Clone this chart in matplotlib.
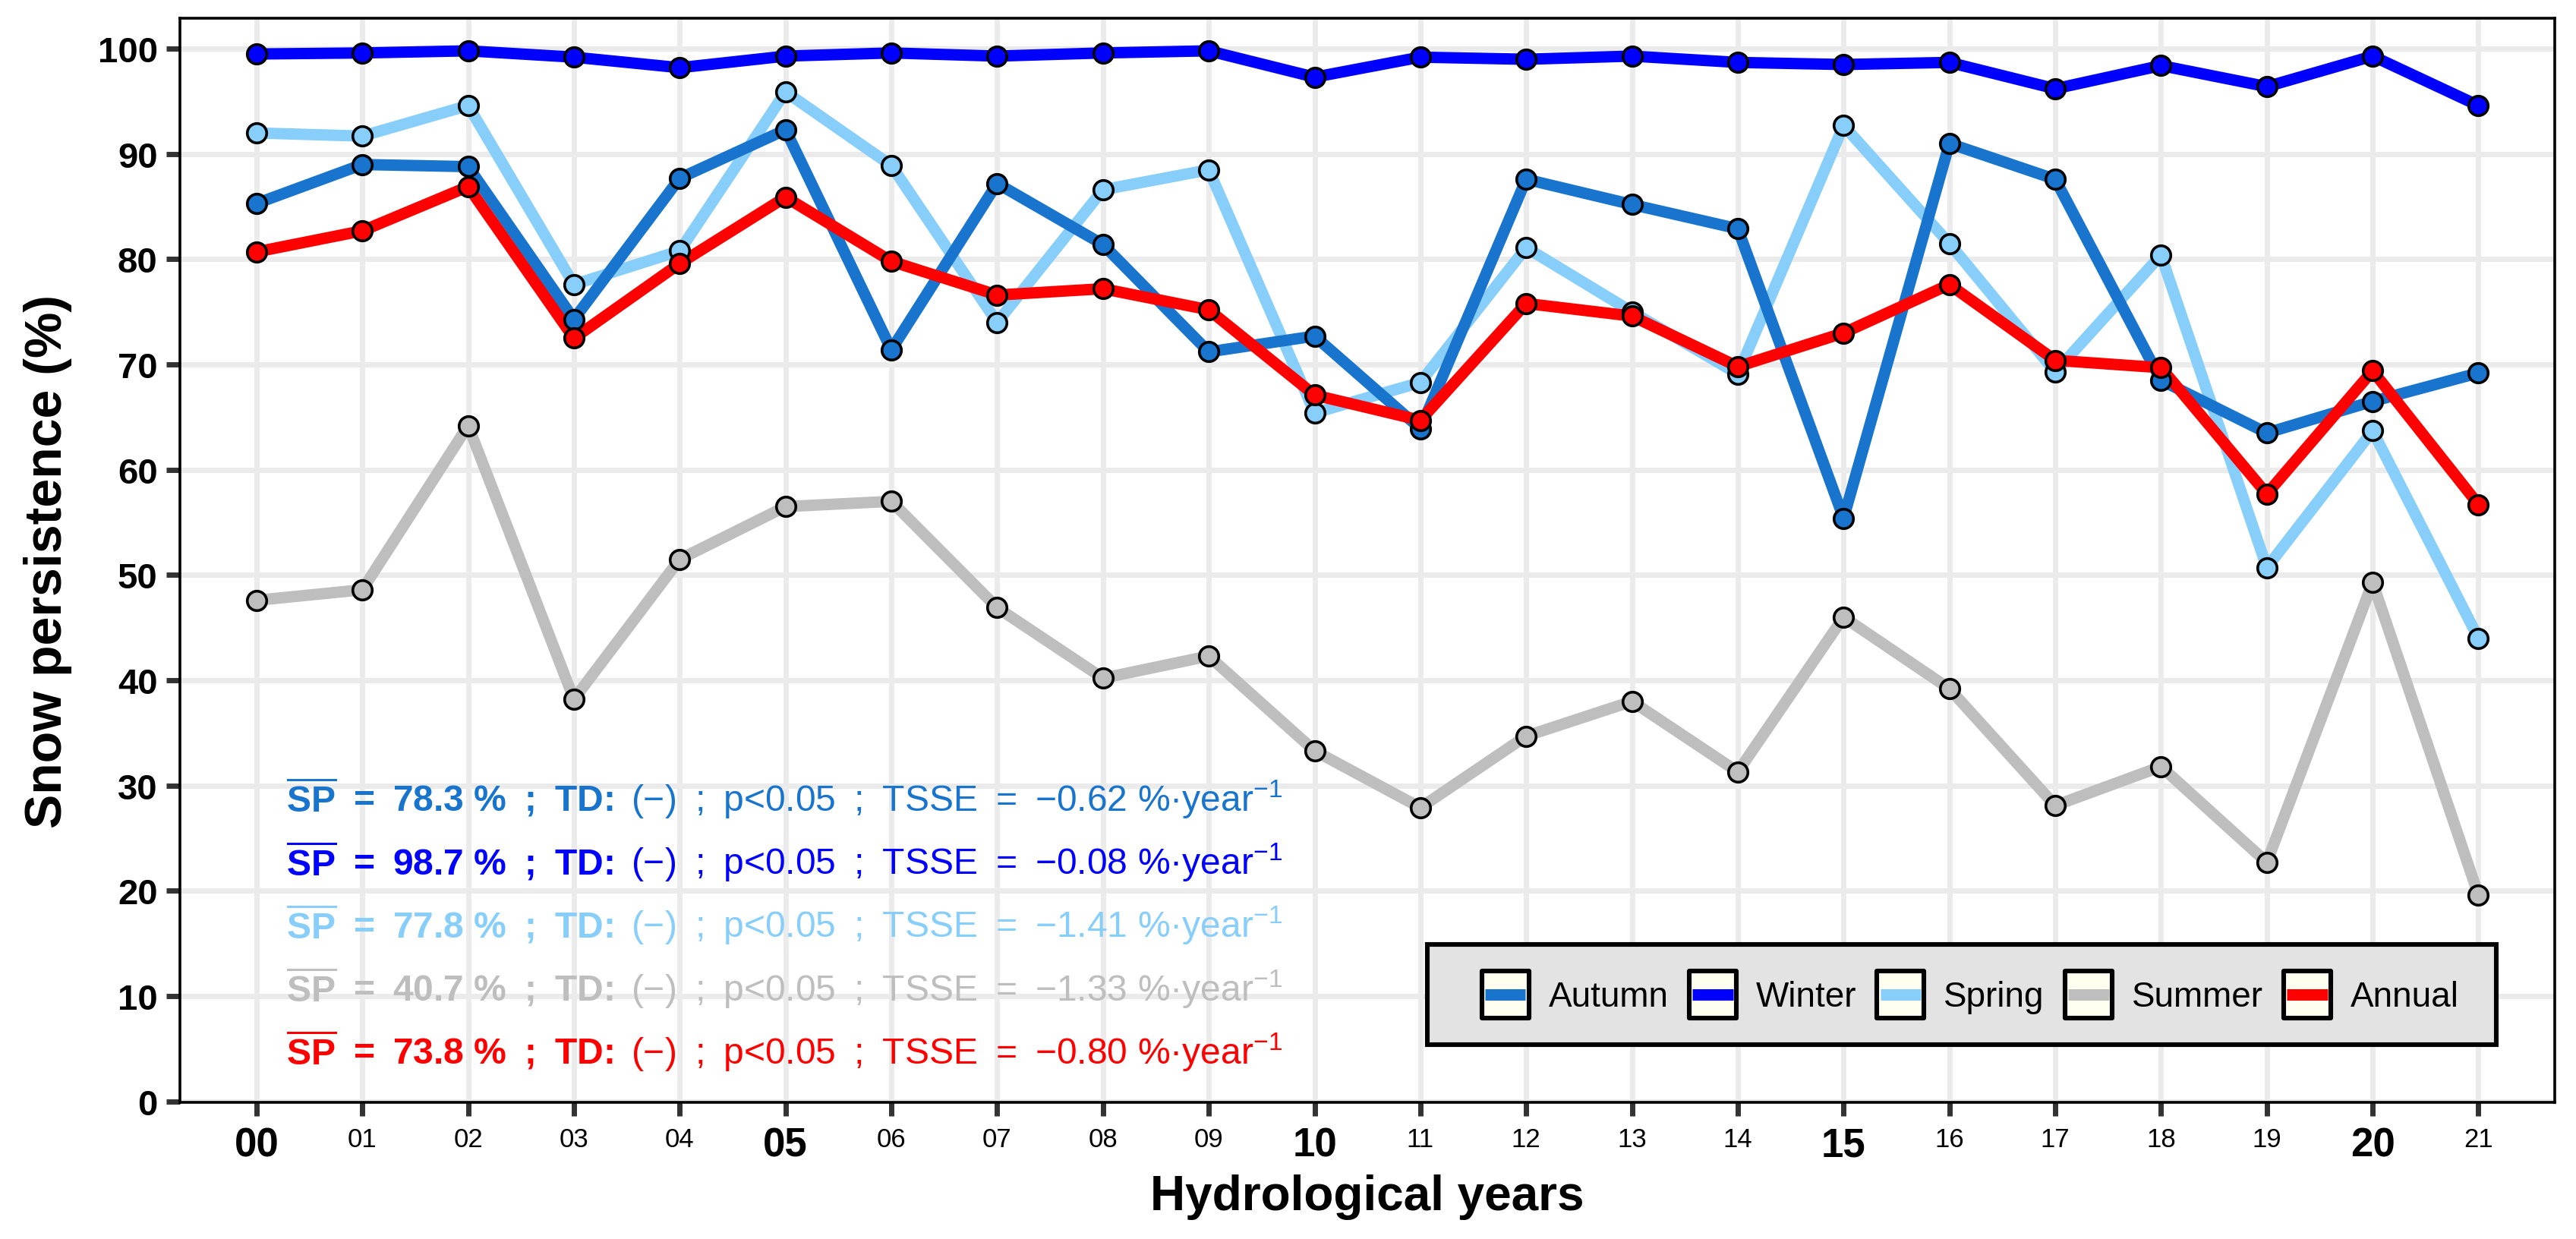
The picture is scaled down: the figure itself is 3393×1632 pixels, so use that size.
import matplotlib
matplotlib.use('Agg')
import matplotlib.pyplot as plt
from matplotlib.patches import Rectangle
from matplotlib.lines import Line2D
from matplotlib.legend_handler import HandlerBase

plt.rcParams['font.family'] = ['Liberation Sans', 'DejaVu Sans']
plt.rcParams['mathtext.fontset'] = 'custom'
plt.rcParams['mathtext.rm'] = 'Liberation Sans'
plt.rcParams['mathtext.bf'] = 'Liberation Sans:bold'
plt.rcParams['mathtext.default'] = 'regular'

# hydrological years (20xx)
years = ['00', '01', '02', '03', '04', '05', '06', '07', '08', '09', '10',
         '11', '12', '13', '14', '15', '16', '17', '18', '19', '20', '21']

autumn = [85.3, 89.0, 88.8, 74.3, 87.7, 92.3, 71.4, 87.2, 81.4, 71.2, 72.7,
          63.9, 87.6, 85.2, 82.9, 55.4, 91.0, 87.6, 68.5, 63.5, 66.5, 69.2]
winter = [99.5, 99.6, 99.8, 99.2, 98.2, 99.3, 99.6, 99.3, 99.6, 99.8, 97.3,
          99.2, 99.0, 99.3, 98.7, 98.5, 98.7, 96.2, 98.4, 96.4, 99.3, 94.6]
spring = [92.0, 91.7, 94.6, 77.6, 80.8, 95.9, 88.9, 74.0, 86.6, 88.5, 65.4,
          68.3, 81.1, 75.0, 69.1, 92.7, 81.5, 69.3, 80.4, 50.7, 63.7, 44.0]
summer = [47.6, 48.6, 64.2, 38.2, 51.5, 56.5, 57.0, 46.9, 40.2, 42.3, 33.3,
          27.9, 34.7, 38.0, 31.3, 46.0, 39.2, 28.1, 31.8, 22.7, 49.3, 19.6]
annual = [80.7, 82.7, 86.9, 72.5, 79.6, 85.9, 79.8, 76.6, 77.2, 75.2, 67.1,
          64.7, 75.8, 74.6, 69.8, 73.0, 77.6, 70.4, 69.7, 57.7, 69.4, 56.7]

names = ['Autumn', 'Winter', 'Spring', 'Summer', 'Annual']
values = [autumn, winter, spring, summer, annual]
colors = ['#1874CD', '#0000FF', '#87CEFA', '#BEBEBE', '#FF0000']
line_z = [4, 5, 3, 2, 6]

# stats printed in the panel
sp_mean = ['78.3', '98.7', '77.8', '40.7', '73.8']
tsse = ['0.62', '0.08', '1.41', '1.33', '0.80']

SP = '\u2002'  # wide gap like the plotmath spacing


class KeyHandler(HandlerBase):
    # square key with ivory background and a coloured bar through it
    def create_artists(self, legend, orig_handle, xdescent, ydescent,
                       width, height, fontsize, trans):
        box = Rectangle((-xdescent, -ydescent), width, height,
                        facecolor='#FFFFF0', edgecolor='black', linewidth=2.2,
                        joinstyle='round', transform=trans)
        yc = -ydescent + height / 2
        bar = Line2D([-xdescent + 1.5, -xdescent + width - 1.5], [yc, yc],
                     color=orig_handle.get_color(), linewidth=5.4,
                     solid_capstyle='butt', transform=trans)
        return [box, bar]


fig = plt.figure(figsize=(3393 / 200, 1633 / 200), dpi=200)
ax = fig.add_axes([0.0698, 0.1102, 0.9219, 0.8745])

x = list(range(len(years)))
handles = []
for name, vals, col, z in zip(names, values, colors, line_z):
    ln, = ax.plot(x, vals, color=col, lw=5.4, zorder=z, solid_capstyle='butt')
    handles.append(ln)
for vals, col, z in zip(values, colors, line_z):
    ax.plot(x, vals, ls='none', marker='o', ms=9.2, mfc=col, mec='black',
            mew=1.3, zorder=10 + z)

ax.set_xlim(-0.725, 21.72)
ax.set_ylim(-0.1, 102.9)
ax.set_xticks(x)
ax.set_xticklabels(years)
ax.set_yticks(range(0, 101, 10))
for lab in ax.get_yticklabels():
    lab.set_fontweight('bold')
for i, lab in enumerate(ax.get_xticklabels()):
    if i % 5 == 0:
        lab.set_fontsize(19)
        lab.set_fontweight('bold')
    else:
        lab.set_fontsize(12.5)

ax.tick_params(axis='both', length=6.5, width=2.5, color='#333333')
ax.tick_params(axis='y', labelsize=17, pad=4)
ax.tick_params(axis='x', pad=5)
ax.grid(color='#EBEBEB', lw=2.5)
ax.set_axisbelow(True)
for sp in ax.spines.values():
    sp.set_linewidth(1.3)
    sp.set_color('black')

ax.set_ylabel('Snow persistence (%)', fontsize=24.5, fontweight='bold')
ax.yaxis.set_label_coords(-0.0453, 0.5)
ax.set_xlabel('Hydrological years', fontsize=23, fontweight='bold')
ax.xaxis.set_label_coords(0.5, -0.066)

# statistics lines
for i, (col, m, t) in enumerate(zip(colors, sp_mean, tsse)):
    yb = 27.6 - 6.0 * i
    first = r'$\overline{\mathbf{SP}}$' + SP + '=' + SP + m + ' %' + SP + ';' + SP + 'TD:'
    rest = ('(\u2212)' + SP + ';' + SP + 'p<0.05' + SP + ';' + SP + 'TSSE' + SP
            + '=' + SP + '\u2212' + t + ' %\u00b7year$^{-1}$')
    t1 = ax.text(0.28, yb, first, color=col, fontsize=17.3, fontweight='bold',
                 va='baseline', ha='left', zorder=15)
    ax.annotate(rest, xy=(1, yb), xycoords=(t1, 'data'), xytext=(8.5, 0),
                textcoords='offset points', color=col, fontsize=17.3,
                va='baseline', ha='left', zorder=15)

# legend: grey framed box with keys centred inside
frame = Rectangle((0.5253, 0.0532), 0.4501, 0.0925, transform=ax.transAxes,
                  facecolor='#E3E3E3', edgecolor='black', linewidth=2.2,
                  zorder=20)
ax.add_patch(frame)
leg = ax.legend(handles, names, handler_map={Line2D: KeyHandler()},
                loc='center', bbox_to_anchor=(0.754, 0.0995), ncol=5,
                frameon=False, fontsize=16.5, handlelength=1.35,
                handleheight=1.70, handletextpad=0.57, columnspacing=0.59,
                borderpad=0)
leg.set_zorder(21)

fig.savefig('out.png', dpi=200)
